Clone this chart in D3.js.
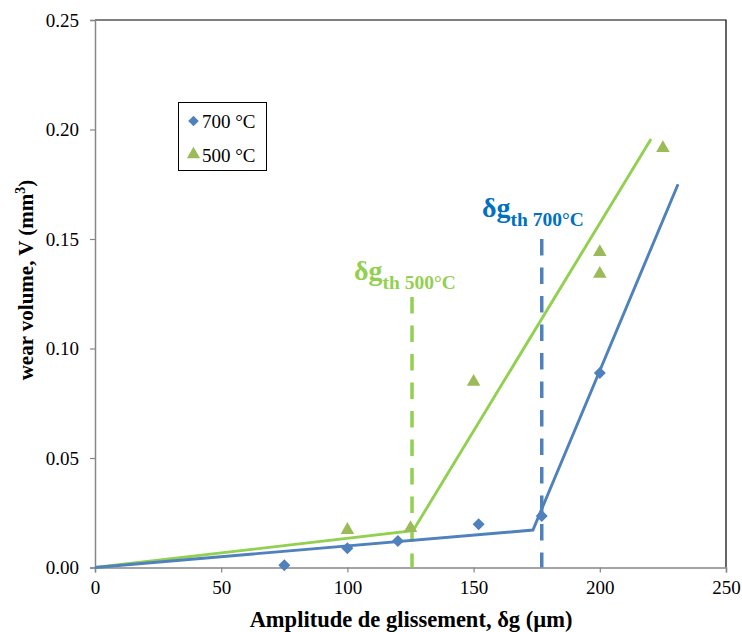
<!DOCTYPE html>
<html><head><meta charset="utf-8">
<script src="https://cdn.jsdelivr.net/npm/d3@7"></script>
<style>body{margin:0;background:#fff}svg{display:block}text{font-family:"Liberation Serif","Times New Roman",serif !important}</style>
</head><body>
<svg id="c" width="742" height="632"></svg>
<script>
// ---- data ----
const xTicks = [0, 50, 100, 150, 200, 250];
const yTicks = [0, 0.05, 0.10, 0.15, 0.20, 0.25];
const pts700X = [75, 100, 120, 152, 177, 200];
const pts700Y = [0.001, 0.0088, 0.0121, 0.0198, 0.0235, 0.0888];
const pts500X = [100, 125, 150, 200, 200, 225];
const pts500Y = [0.0176, 0.0185, 0.0852, 0.1445, 0.1345, 0.192];
const fit700X = [0, 173.5, 231];
const fit700Y = [0, 0.0171, 0.175];
const fit500X = [0, 126, 220.3];
const fit500Y = [0, 0.0168, 0.1957];
const th500 = 125.6, th500Top = 0.1235;
const th700 = 177, th700Top = 0.15;
const seriesNames = ["700 °C", "500 °C"];

// ---- layout ----
const svg = d3.select("#c");
const L = 95, R = 726, T = 20, B = 567.5;
const x = d3.scaleLinear().domain([0, 250]).range([L, R]);
const y = d3.scaleLinear().domain([0, 0.25]).range([B, T]);
const blue = "#4F81BD", blueMk = "#4F81BD", green = "#92D050", greenMk = "#9BBB59";

// border top/right
svg.append("path").attr("d", `M${L},${T}H${R}V${B}`).attr("fill","none").attr("stroke","#000").attr("stroke-width",1.2);

// axes
const gx = svg.append("g").attr("transform", `translate(0,${B})`)
  .call(d3.axisBottom(x).tickValues(xTicks).tickSize(5).tickPadding(8).tickFormat(d3.format("d")));
const gy = svg.append("g").attr("transform", `translate(${L},0)`)
  .call(d3.axisLeft(y).tickValues(yTicks).tickSize(5).tickPadding(11).tickFormat(d3.format(".2f")));
[gx, gy].forEach(g => {
  g.attr("font-family", "Liberation Serif");
  g.select(".domain").attr("stroke", "#868686").attr("stroke-width", 1.5);
  g.selectAll(".tick line").attr("stroke", "#868686").attr("stroke-width", 1.2);
  g.selectAll("text").attr("font-family", "Liberation Serif").attr("font-size", 19).attr("fill", "#000");
});

// dashed threshold lines
svg.append("line").attr("x1", x(th500)).attr("x2", x(th500)).attr("y1", y(th500Top)).attr("y2", B)
  .attr("stroke", green).attr("stroke-width", 3.5).attr("stroke-dasharray", "16.5,12");
svg.append("line").attr("x1", x(th700)).attr("x2", x(th700)).attr("y1", y(th700Top)).attr("y2", B)
  .attr("stroke", blue).attr("stroke-width", 3.5).attr("stroke-dasharray", "16.5,12");

// fit lines
const line = d3.line().x(d => x(d[0])).y(d => y(d[1]));
svg.append("path").datum(fit500X.map((v,i)=>[v, fit500Y[i]])).attr("d", line)
  .attr("fill","none").attr("stroke", green).attr("stroke-width", 2.9);
svg.append("path").datum(fit700X.map((v,i)=>[v, fit700Y[i]])).attr("d", line)
  .attr("fill","none").attr("stroke", blue).attr("stroke-width", 2.9);

// markers
const diamond = d3.symbol().type(d3.symbolSquare).size(72);
const tri = d3.symbol().type(d3.symbolTriangle).size(80);
svg.append("g").selectAll("path").data(pts700X.map((v,i)=>[v, pts700Y[i]])).join("path")
  .attr("d", diamond).attr("transform", d => `translate(${x(d[0])},${y(d[1])}) rotate(45)`).attr("fill", blueMk);
svg.append("g").selectAll("path").data(pts500X.map((v,i)=>[v, pts500Y[i]])).join("path")
  .attr("d", tri).attr("transform", d => `translate(${x(d[0])},${y(d[1])+1})`).attr("fill", greenMk);

// threshold labels
function thLabel(xp, yp, sub, col) {
  const t = svg.append("text").attr("x", xp).attr("y", yp).attr("fill", col).attr("font-weight", "bold");
  t.append("tspan").attr("font-size", 28).text("δg");
  t.append("tspan").attr("font-size", 19.5).attr("dy", 9).text(sub);
}
thLabel(354, 280, "th 500°C", green);
thLabel(482, 217, "th 700°C", "#0070C0");

// legend
const lg = svg.append("g");
lg.append("rect").attr("x", 178.5).attr("y", 102.5).attr("width", 88).attr("height", 68)
  .attr("fill", "#fff").attr("stroke", "#000").attr("stroke-width", 1);
lg.append("path").attr("d", d3.symbol().type(d3.symbolSquare).size(56)).attr("transform", "translate(193.5,121) rotate(45)").attr("fill", blueMk);
lg.append("path").attr("d", d3.symbol().type(d3.symbolTriangle).size(76)).attr("transform", "translate(193.5,154.5)").attr("fill", greenMk);
lg.append("text").attr("x", 202).attr("y", 127.5).attr("font-size", 19).text(seriesNames[0]);
lg.append("text").attr("x", 202).attr("y", 161.5).attr("font-size", 19).text(seriesNames[1]);

// axis titles
svg.append("text").attr("x", 411).attr("y", 627).attr("text-anchor", "middle")
  .attr("font-size", 22.5).attr("font-weight", "bold").text("Amplitude de glissement, δg (µm)");
const yt = svg.append("text").attr("transform", `translate(33,280) rotate(-90)`).attr("text-anchor", "middle")
  .attr("font-size", 21).attr("font-weight", "bold");
yt.append("tspan").text("wear volume, V (mm");
yt.append("tspan").attr("dy", -8).attr("font-size", 14).text("3");
yt.append("tspan").attr("dy", 8).text(")");
</script>
</body></html>
